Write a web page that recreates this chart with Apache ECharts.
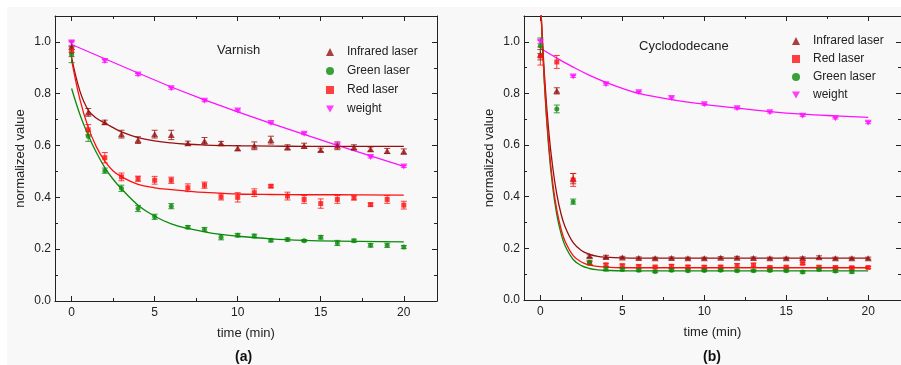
<!DOCTYPE html>
<html><head><meta charset="utf-8">
<script src="https://cdn.jsdelivr.net/npm/echarts@6/dist/echarts.min.js"></script>
<style>html,body{margin:0;padding:0;background:#fff}#c{width:901px;height:365px}</style>
</head><body><div id="c"></div>
<script>
// ---------- Panel (a): Varnish ----------
const timeA = [0,1,2,3,4,5,6,7,8,9,10,11,12,13,14,15,16,17,18,19,20];
const irA = [0.98,0.728,0.69,0.644,0.621,0.644,0.641,0.609,0.618,0.609,0.59,0.599,0.621,0.593,0.599,0.583,0.599,0.593,0.586,0.579,0.577];
const irAErr = [0.02,0.015,0.008,0.015,0.013,0.015,0.018,0.008,0.013,0.007,0.01,0.015,0.015,0.01,0.01,0.007,0.015,0.01,0.008,0.01,0.01];
const greenA = [0.95,0.636,0.503,0.435,0.357,0.325,0.366,0.285,0.276,0.246,0.254,0.251,0.234,0.237,0.233,0.246,0.224,0.233,0.215,0.215,0.208];
const greenAErr = [0.03,0.02,0.01,0.012,0.012,0.01,0.01,0.006,0.008,0.01,0.007,0.007,0.006,0.006,0.004,0.007,0.01,0.006,0.007,0.008,0.006];
const redA = [0.963,0.661,0.553,0.479,0.472,0.466,0.466,0.437,0.447,0.402,0.40,0.418,0.443,0.405,0.392,0.376,0.392,0.398,0.372,0.392,0.37];
const redAErr = [0.02,0.02,0.02,0.015,0.01,0.015,0.012,0.015,0.012,0.012,0.018,0.015,0.005,0.015,0.015,0.018,0.015,0.008,0.006,0.015,0.015];
const weightTimeA = [0,2,4,6,8,10,12,14,16,18,20];
const weightA = [0.997,0.926,0.874,0.821,0.773,0.735,0.687,0.646,0.60,0.556,0.519];
const weightAErr = [0.01,0.005,0.004,0.004,0.004,0.003,0.003,0.004,0.005,0.004,0.004];
// fitted curves (a)
const fitXA = [0,0.5,1,1.5,2,2.5,3,4,5,6,7,8,9,10,12,14,16,20];
const irFitA = [0.94,0.81,0.737,0.705,0.687,0.669,0.653,0.631,0.618,0.610,0.605,0.602,0.600,0.599,0.598,0.597,0.597,0.597];
const redFitA = [0.93,0.778,0.67,0.594,0.54,0.502,0.48,0.45,0.437,0.43,0.424,0.419,0.416,0.413,0.411,0.41,0.41,0.409];
const greenFitA = [0.82,0.72,0.64,0.572,0.515,0.47,0.433,0.37,0.327,0.298,0.28,0.267,0.257,0.25,0.24,0.234,0.231,0.228];
const weightFitXA = [0,2,4,6,8,10,12,14,16,18,20];
const weightFitA = [0.99,0.935,0.88,0.826,0.776,0.73,0.686,0.643,0.601,0.56,0.52];

// ---------- Panel (b): Cyclododecane ----------
const timeB = [0,1,2,3,4,5,6,7,8,9,10,11,12,13,14,15,16,17,18,19,20];
const irB = [0.95,0.81,0.47,0.17,0.167,0.165,0.163,0.162,0.163,0.162,0.162,0.164,0.164,0.163,0.162,0.162,0.163,0.166,0.162,0.162,0.162];
const irBErr = [0.02,0.012,0.02,0.005,0.006,0.004,0.004,0.004,0.004,0.004,0.004,0.004,0.005,0.004,0.004,0.004,0.004,0.005,0.004,0.004,0.004];
const redB = [0.945,0.922,0.465,0.143,0.136,0.133,0.13,0.128,0.13,0.128,0.127,0.128,0.133,0.135,0.126,0.127,0.142,0.127,0.126,0.125,0.126];
const redBErr = [0.035,0.025,0.025,0.006,0.006,0.006,0.006,0.004,0.008,0.006,0.006,0.005,0.008,0.008,0.005,0.005,0.004,0.005,0.005,0.005,0.004];
const timeGreenB = [0,1,2,3,4,5,6,7,8,9,10,11,12,13,14,15,16,17,18,19];
const greenB = [0.985,0.74,0.381,0.146,0.12,0.118,0.115,0.11,0.115,0.113,0.114,0.115,0.113,0.113,0.114,0.113,0.108,0.118,0.112,0.109];
const greenBErr = [0.03,0.015,0.01,0.008,0.008,0.005,0.005,0.004,0.005,0.004,0.004,0.004,0.004,0.004,0.004,0.004,0.004,0.004,0.005,0.005];
const weightTimeB = [0,2,4,6,8,10,12,14,16,18,20];
const weightB = [1.0,0.866,0.836,0.805,0.782,0.758,0.743,0.727,0.714,0.704,0.687];
const weightBErr = [0.006,0.004,0.004,0.003,0.004,0.004,0.004,0.003,0.003,0.003,0.004];
// fitted curves (b)
const fitXB = [0,0.25,0.5,0.75,1,1.25,1.5,2,2.5,3,3.5,4,5,6,8,10,15,20];
const irFitB = [1.162,0.87,0.66,0.515,0.41,0.336,0.285,0.222,0.192,0.177,0.169,0.166,0.163,0.162,0.162,0.162,0.162,0.162];
const redFitB = [1.175,0.84,0.61,0.455,0.35,0.278,0.228,0.172,0.147,0.135,0.13,0.127,0.125,0.125,0.125,0.125,0.125,0.125];
const greenFitB = [1.183,0.832,0.595,0.437,0.331,0.26,0.211,0.157,0.133,0.122,0.117,0.115,0.113,0.113,0.113,0.113,0.113,0.113];
const weightFitXB = [0,1,2,3,4,5,6,8,10,12,14,16,18,20];
const weightFitB = [0.975,0.937,0.902,0.87,0.843,0.82,0.80,0.776,0.758,0.743,0.73,0.72,0.713,0.707];

// tick labels
const xMajor = [0,5,10,15,20];
const xMinor = [2.5,7.5,12.5,17.5];
const yMajor = [0,0.2,0.4,0.6,0.8,1.0];
const yMinor = [0.1,0.3,0.5,0.7,0.9];

const C = {ir:'#961010', green:'#0a8a0a', red:'#ff1010', weight:'#ff10ff'};
const FONT = 'Liberation Sans, Arial, sans-serif';
const INV_TRI = 'path://M0,0L10,0L5,9Z';

function pairs(xs, ys){ return xs.map((x,i)=>[x, ys[i]]); }
function triples(xs, ys, es){ return xs.map((x,i)=>[x, ys[i], es[i]]); }

function errRender(color){
  return function(params, api){
    const x = api.value(0), y = api.value(1), e = api.value(2);
    const lo = api.coord([x, y - e]), hi = api.coord([x, y + e]);
    const w = 3;
    const st = {stroke: color, lineWidth: 1, opacity: 0.8};
    return {type:'group', children:[
      {type:'line', shape:{x1:lo[0], y1:lo[1], x2:hi[0], y2:hi[1]}, style:st},
      {type:'line', shape:{x1:lo[0]-w, y1:lo[1], x2:lo[0]+w, y2:lo[1]}, style:st},
      {type:'line', shape:{x1:hi[0]-w, y1:hi[1], x2:hi[0]+w, y2:hi[1]}, style:st}
    ]};
  };
}

const axisLineStyle = {color:'#222', width:1};
function xAxesFor(gi){
  const base = {gridIndex:gi, type:'value', min:-1, max:22, splitLine:{show:false}};
  return [
    Object.assign({}, base, {position:'bottom', axisLine:{onZero:false, lineStyle:axisLineStyle},
      axisTick:{inside:true, length:5, customValues:xMajor, lineStyle:{color:'#222'}},
      axisLabel:{customValues:xMajor, margin:6, fontSize:12, color:'#222', fontFamily:FONT},
      name:'time (min)', nameLocation:'middle', nameGap:26,
      nameTextStyle:{fontSize:13, color:'#222', fontFamily:FONT}}),
    Object.assign({}, base, {position:'top', axisLine:{onZero:false, lineStyle:axisLineStyle},
      axisTick:{inside:true, length:5, customValues:xMajor, lineStyle:{color:'#222'}}, axisLabel:{show:false}}),
    Object.assign({}, base, {position:'bottom', axisLine:{show:false, onZero:false},
      axisTick:{inside:true, length:3, customValues:xMinor, lineStyle:{color:'#222'}}, axisLabel:{show:false}}),
    Object.assign({}, base, {position:'top', axisLine:{show:false, onZero:false},
      axisTick:{inside:true, length:3, customValues:xMinor, lineStyle:{color:'#222'}}, axisLabel:{show:false}})
  ];
}
function yAxesFor(gi){
  const base = {gridIndex:gi, type:'value', min:0, max:1.1, splitLine:{show:false}};
  return [
    Object.assign({}, base, {position:'left', axisLine:{show:true, onZero:false, lineStyle:axisLineStyle},
      axisTick:{show:true, inside:true, length:5, customValues:yMajor, lineStyle:{color:'#222'}},
      axisLabel:{customValues:yMajor, margin:4, fontSize:12, color:'#222', fontFamily:FONT,
        formatter: v => v.toFixed(1)},
      name:'normalized value', nameLocation:'middle', nameGap:28,
      nameTextStyle:{fontSize:13, color:'#222', fontFamily:FONT}}),
    Object.assign({}, base, {position:'right', axisLine:{show:true, onZero:false, lineStyle:axisLineStyle},
      axisTick:{show:true, inside:true, length:5, customValues:yMajor, lineStyle:{color:'#222'}}, axisLabel:{show:false}}),
    Object.assign({}, base, {position:'left', axisLine:{show:false, onZero:false},
      axisTick:{show:true, inside:true, length:3, customValues:yMinor, lineStyle:{color:'#222'}}, axisLabel:{show:false}}),
    Object.assign({}, base, {position:'right', axisLine:{show:false, onZero:false},
      axisTick:{show:true, inside:true, length:3, customValues:yMinor, lineStyle:{color:'#222'}}, axisLabel:{show:false}})
  ];
}

function fitSeries(name, xs, ys, color, ax, sm){
  return {name, type:'line', xAxisIndex:ax, yAxisIndex:ax, data:pairs(xs, ys), smooth:sm,
    showSymbol:false, symbol:'none', clip:true, silent:true,
    lineStyle:{color, width:1.3}, z:2};
}
function errSeries(name, xs, ys, es, color, ax){
  return {name, type:'custom', xAxisIndex:ax, yAxisIndex:ax, data:triples(xs, ys, es),
    renderItem: errRender(color), encode:{x:0, y:1}, clip:true, silent:true, z:3};
}
function scatSeries(name, xs, ys, color, symbol, size, ax){
  return {name, type:'scatter', xAxisIndex:ax, yAxisIndex:ax, data:pairs(xs, ys),
    symbol, symbolSize:size, itemStyle:{color}, clip:true, z:4};
}

const series = [
  // (a)
  fitSeries('fitA-weight', weightFitXA, weightFitA, C.weight, 0, false),
  fitSeries('fitA-ir', fitXA, irFitA, C.ir, 0, 0.4),
  fitSeries('fitA-red', fitXA, redFitA, C.red, 0, 0.4),
  fitSeries('fitA-green', fitXA, greenFitA, C.green, 0, 0.4),
  errSeries('errA-weight', weightTimeA, weightA, weightAErr, C.weight, 0),
  errSeries('errA-ir', timeA, irA, irAErr, C.ir, 0),
  errSeries('errA-red', timeA, redA, redAErr, C.red, 0),
  errSeries('errA-green', timeA, greenA, greenAErr, C.green, 0),
  scatSeries('weight', weightTimeA, weightA, C.weight, INV_TRI, [7,6], 0),
  scatSeries('Infrared laser', timeA, irA, C.ir, 'triangle', [7,6], 0),
  scatSeries('Red laser', timeA, redA, C.red, 'rect', 5, 0),
  scatSeries('Green laser', timeA, greenA, C.green, 'circle', 5, 0),
  // (b)
  fitSeries('fitB-weight', weightFitXB, weightFitB, C.weight, 4, 0.4),
  fitSeries('fitB-ir', fitXB, irFitB, C.ir, 4, 0.4),
  fitSeries('fitB-green', fitXB, greenFitB, C.green, 4, 0.4),
  fitSeries('fitB-red', fitXB, redFitB, C.red, 4, 0.4),
  errSeries('errB-weight', weightTimeB, weightB, weightBErr, C.weight, 4),
  errSeries('errB-ir', timeB, irB, irBErr, C.ir, 4),
  errSeries('errB-red', timeB, redB, redBErr, C.red, 4),
  errSeries('errB-green', timeGreenB, greenB, greenBErr, C.green, 4),
  scatSeries('weight', weightTimeB, weightB, C.weight, INV_TRI, [7,6], 4),
  scatSeries('Infrared laser', timeB, irB, C.ir, 'triangle', [7,6], 4),
  scatSeries('Red laser', timeB, redB, C.red, 'rect', 5, 4),
  scatSeries('Green laser', timeGreenB, greenB, C.green, 'circle', 5, 4)
];

const legendText = {fontSize:12, color:'#222', fontFamily:FONT, padding:[0,0,0,8]};
const option = {
  backgroundColor:'#f8f8f8',
  animation:false,
  grid:[
    {left:55, top:16, width:382, height:285},
    {left:524, top:16, width:382, height:284}
  ],
  xAxis: xAxesFor(0).concat(xAxesFor(1)),
  yAxis: yAxesFor(0).concat(yAxesFor(1)),
  legend:[
    {orient:'vertical', left:321, top:41, itemWidth:8, itemHeight:8, itemGap:7, selectedMode:false,
      textStyle:legendText,
      data:[{name:'Infrared laser', icon:'triangle'}, {name:'Green laser', icon:'circle'},
            {name:'Red laser', icon:'rect'}, {name:'weight', icon:INV_TRI}]},
    {orient:'vertical', left:787, top:30, itemWidth:8, itemHeight:8, itemGap:6, selectedMode:false,
      textStyle:legendText,
      data:[{name:'Infrared laser', icon:'triangle'}, {name:'Red laser', icon:'rect'},
            {name:'Green laser', icon:'circle'}, {name:'weight', icon:INV_TRI}]}
  ],
  graphic:[
    {type:'rect', left:0, top:0, z:-10, silent:true, shape:{width:901, height:7}, style:{fill:'#ffffff'}},
    {type:'rect', left:0, top:0, z:-10, silent:true, shape:{width:7, height:365}, style:{fill:'#ffffff'}},
    {type:'text', left:217, top:44, style:{text:'Varnish', fontSize:13, fill:'#222', fontFamily:FONT}},
    {type:'text', left:639, top:40, style:{text:'Cyclododecane', fontSize:13, fill:'#222', fontFamily:FONT}},
    {type:'text', left:235, top:350, style:{text:'(a)', fontSize:14, fontWeight:'bold', fill:'#111', fontFamily:FONT}},
    {type:'text', left:703, top:350, style:{text:'(b)', fontSize:14, fontWeight:'bold', fill:'#111', fontFamily:FONT}}
  ],
  series
};
const chart = echarts.init(document.getElementById('c'), null, {renderer:'canvas'});
chart.setOption(option);
</script>
</body></html>
